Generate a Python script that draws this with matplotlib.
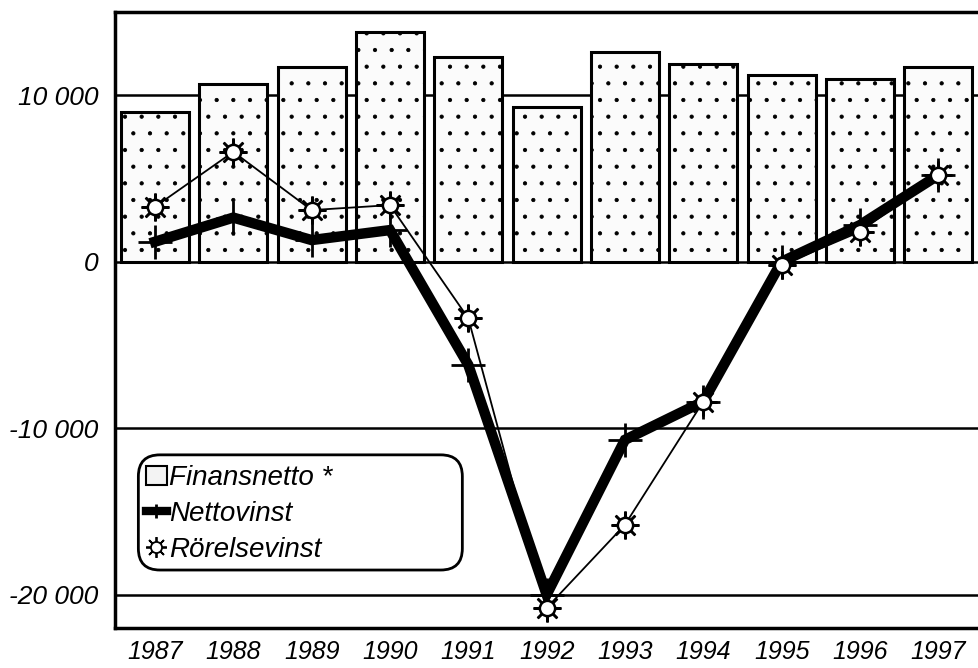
import matplotlib
matplotlib.use('Agg')
import matplotlib.pyplot as plt
import numpy as np
from matplotlib.legend_handler import HandlerTuple
from matplotlib.patches import Patch, FancyBboxPatch
from matplotlib.lines import Line2D

plt.rcParams['font.family'] = ['Liberation Sans', 'DejaVu Sans']
plt.rcParams['hatch.color'] = '#c4c4c4'
plt.rcParams['hatch.linewidth'] = 0.6

years = ['1987', '1988', '1989', '1990', '1991', '1992', '1993', '1994', '1995', '1996', '1997']
finansnetto = [9000, 10700, 11700, 13800, 12300, 9300, 12600, 11900, 11200, 11000, 11700]
nettovinst = [1200, 2650, 1300, 1900, -6200, -20000, -10700, -8400, 0, 2200, 5200]
rorelsevinst = [3300, 6600, 3100, 3400, -3400, -20800, -15800, -8400, -200, 1800, 5200]

x = np.arange(len(years))

fig = plt.figure(figsize=(9.79, 6.68), dpi=100)
ax = fig.add_axes([0.1175, 0.060, 0.8825, 0.922])

# gridlines behind the bars
for yv in [10000, 0, -10000, -20000]:
    ax.axhline(yv, color='black', lw=1.8, zorder=0)

ax.bar(x, finansnetto, width=0.87, facecolor='#fbfbfb', edgecolor='black',
       lw=2.2, hatch='.', zorder=1)

ax.plot(x, nettovinst, color='black', lw=7.5, marker='+', ms=24, mew=2,
        solid_joinstyle='miter', zorder=3)
ax.plot(x, rorelsevinst, color='black', lw=1.3, zorder=4)
ax.plot(x, rorelsevinst, ls='none', marker=(8, 2, 0), ms=20, mec='black', mew=1.8, zorder=4.5)
ax.plot(x, rorelsevinst, ls='none', marker='o', ms=11, mfc='white', mec='black', mew=1.8, zorder=5)

ax.set_xlim(-0.51, 10.52)
ax.set_ylim(-22000, 15000)
ax.set_yticks([10000, 0, -10000, -20000])
ax.set_yticklabels(['10 000', '0', '-10 000', '-20 000'], fontsize=19, style='italic')
ax.set_xticks(x)
ax.set_xticklabels(years, fontsize=18, style='italic')
ax.tick_params(length=0)
ax.tick_params(axis='x', pad=9)
ax.tick_params(axis='y', pad=12)
for s in ['left', 'top', 'bottom']:
    ax.spines[s].set_linewidth(2.5)
ax.spines['right'].set_visible(False)

fig.text(0.12, 1.006, 'MKr', fontsize=14, va='center', ha='left')

# rounded legend frame, wider than the entries
frame = FancyBboxPatch((0.027, 0.094), 0.375, 0.187, transform=ax.transAxes,
                       boxstyle='round,pad=0,rounding_size=0.025', facecolor='white',
                       edgecolor='black', lw=2, zorder=9, mutation_aspect=1.4)
ax.add_patch(frame)

h_fin = Patch(facecolor='#f3f3f3', edgecolor='black', lw=1.5)
h_net = Line2D([], [], color='black', lw=6, marker='+', ms=10, mew=2)
h_ror = (Line2D([], [], ls='none', marker=(8, 2, 0), ms=15, mec='black', mew=1.3),
         Line2D([], [], ls='none', marker='o', ms=8, mfc='white', mec='black', mew=1.3))
leg = ax.legend([h_fin, h_net, h_ror], ['Finansnetto *', 'Nettovinst', 'Rörelsevinst'],
                handler_map={tuple: HandlerTuple(ndivide=1, pad=0)},
                loc='lower left', bbox_to_anchor=(0.026, 0.092),
                prop={'size': 20, 'style': 'italic'}, handlelength=0.75, handletextpad=0.1,
                borderpad=0.3, labelspacing=0.35, frameon=False, borderaxespad=0)
leg.set_zorder(10)

fig.savefig('out.png', dpi=100)
